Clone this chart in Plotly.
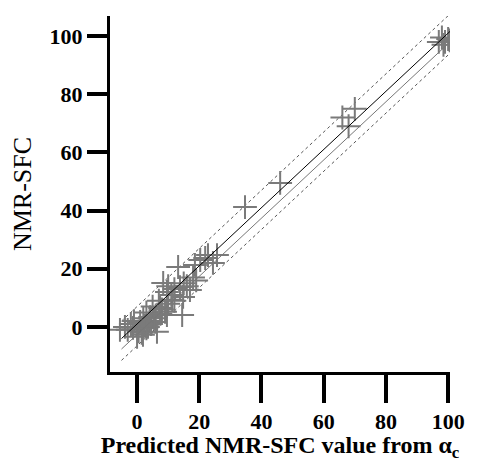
import plotly.graph_objects as go

# predicted (x) vs measured (y) NMR-SFC
pred = [97, 98, 99, 100, 100.5, 98.5, 66, 70, 68, 46, 34.7, 25.7, 21.9,
        20.3, 22.8, 24.4, 18.6, 13.2, 13.8, 8.4, 9.6, 14.8, 17, 11.3, 7.4,
        9, 5.8, 1, -1.3, -3.9, -5.5, 4.2, 9.6, 6.4, 1.9, 0, 3.5, 14.5,
        2, 3, 5, 6, 4, 7, 8, 10, 11, 12, 12, 15, 16, 18, 10, 19, -2, -3,
        0.5, 2.5, 1.5, 4.5, -1, 3, 5.5, 7.5]
meas = [98, 99.5, 98, 99, 98.5, 97, 72, 75, 69, 49.5, 41.2, 24.7, 23.7,
        23, 24.7, 22, 21.3, 20.6, 13.7, 15.1, 12, 10.3, 12.7, 9.3, 6.5,
        5.2, 1.7, 1.7, -0.3, 0, -1, 3.4, 4.1, -1.7, -2.7, -3.4, 0, 4.1,
        3, 5, 7, 4, 2, 9, 6, 8, 11, 13, 9, 15, 14, 17, 14, 16, 1, -1,
        -1.5, 0.5, -2, 1, 2, -0.5, 3, 4.5]
ticks = [0, 20, 40, 60, 80, 100]

# fit and band end points
line_x = [-5, 101]
inner_hi = [-4, 102]
inner_lo = [-7.6, 98.4]
outer_hi = [2, 108]
outer_lo = [-11.5, 94.5]

fig = go.Figure()

fig.add_trace(go.Scatter(x=line_x, y=outer_hi, mode="lines",
                         line=dict(color="#555555", width=1, dash="dot")))
fig.add_trace(go.Scatter(x=line_x, y=outer_lo, mode="lines",
                         line=dict(color="#555555", width=1, dash="dot")))
fig.add_trace(go.Scatter(x=pred, y=meas, mode="markers",
                         marker=dict(symbol="cross-thin", size=17,
                                     line=dict(color="#7a7a7a", width=2))))
fig.add_trace(go.Scatter(x=line_x, y=inner_lo, mode="lines",
                         line=dict(color="#777777", width=1)))
fig.add_trace(go.Scatter(x=line_x, y=inner_hi, mode="lines",
                         line=dict(color="black", width=1)))

tick_font = dict(family="Liberation Serif", size=22, color="black", weight="bold")

# page body has an 8px margin, so the figure is a bit smaller than the window
fig.update_layout(
    template="none",
    width=477, height=454,
    margin=dict(l=102, r=35, t=8, b=90),
    plot_bgcolor="white", paper_bgcolor="white",
    showlegend=False,
)
fig.update_xaxes(range=[-8.7, 100.6], tickmode="array", tickvals=ticks,
                 showgrid=False, zeroline=False, showline=True,
                 linecolor="black", linewidth=3,
                 ticks="outside", ticklen=28, tickwidth=4, tickcolor="#000000",
                 tickfont=tick_font,
                 title=dict(text="Predicted NMR-SFC value from α<sub>c</sub>",
                            font=dict(family="Liberation Serif", size=24,
                                      color="black", weight="bold"),
                            standoff=2))
fig.update_yaxes(range=[-15.5, 106.9], tickmode="array", tickvals=ticks,
                 showgrid=False, zeroline=False, showline=True,
                 linecolor="black", linewidth=3,
                 ticks="outside", ticklen=20, tickwidth=4, tickcolor="#000000",
                 tickfont=tick_font,
                 title=dict(text="NMR-SFC",
                            font=dict(family="Liberation Serif", size=26,
                                      color="black"),
                            standoff=16))

fig.write_html("out.html")
